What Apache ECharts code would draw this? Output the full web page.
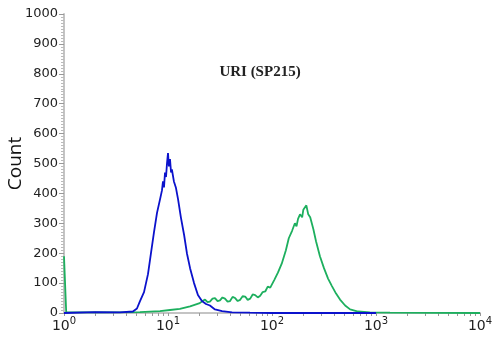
<!DOCTYPE html>
<html lang="en">
<head>
<meta charset="UTF-8">
<title>URI (SP215)</title>
<script src="https://cdn.jsdelivr.net/npm/echarts@6/dist/echarts.min.js"></script>
<style>
  html, body { margin: 0; padding: 0; background: #fff; }
  #chart { width: 500px; height: 342px; }
</style>
</head>
<body>
<div id="chart"></div>
<script>
// fluorescence intensity (log scale) and event counts
var blueX = [1, 2, 3.45, 4.6, 5.03, 5.38, 5.88, 6.42, 6.86, 7.33, 7.84, 8.38, 8.75, 8.95, 9.15, 9.36, 9.57, 9.78,
  10, 10.2, 10.45, 10.7, 10.9, 11.4, 11.9, 12.5, 13.3, 14.3, 15.2, 16.3, 17.8, 19.4, 21.2, 23.2, 25.3, 28.3,
  33.1, 41.3, 61.4, 100, 1000];
var blueY = [0, 3, 2, 5, 15, 40, 70, 130, 200, 270, 335, 380, 410, 440, 420, 470, 455, 500,
  535, 490, 515, 470, 480, 440, 420, 380, 320, 260, 200, 150, 100, 60, 40, 30, 25, 12,
  6, 2, 1, 0, 0];

var greenX = [1, 1.05, 2.22, 5.38, 8.38, 10.45, 13.0, 16.3, 20.2, 21.5, 22.7, 24, 25.3, 26.8, 28.3, 30, 31.6,
  33.4, 35.3, 37.4, 39.5, 41.8, 44.2, 46.8, 49.4, 52.2, 55.2, 58.4, 61.7, 65.2, 68.9, 73, 77.0, 81.4, 86.1,
  91, 96.2, 105, 114, 124, 136, 145, 156, 166, 172, 178, 186, 195, 200, 204, 209, 214,
  223, 233, 250, 265, 289, 316, 346, 377, 413, 451, 505, 564, 673, 873, 1365, 10000];
var greenY = [190, 2, 2, 3, 6, 10, 14, 22, 33, 40, 45, 36, 38, 48, 50, 40, 42, 52, 48, 38, 40, 54, 50, 40,
  44, 56, 55, 44, 48, 62, 60, 52, 58, 70, 72,
  88, 85, 110, 135, 165, 210, 250, 275, 300, 290, 315, 330, 320, 345, 350, 340, 360,
  330, 320, 280, 240, 190, 150, 115, 90, 65, 45, 25, 12, 5, 2, 1, 0];

var decades = [1, 10, 100, 1000, 10000];
var yTicks = [0, 100, 200, 300, 400, 500, 600, 700, 800, 900, 1000];

// tick marks at 1..9 of every decade
var xTickValues = [];
decades.forEach(function (d) {
  for (var k = 1; k <= 9; k++) {
    if (d * k <= 10000) xTickValues.push(d * k);
  }
});

function pairs(xs, ys) {
  return xs.map(function (x, i) { return [x, ys[i]]; });
}

var chart = echarts.init(document.getElementById('chart'));
var option = {
  animation: false,
  title: {
    text: 'URI (SP215)',
    left: 255, top: 60, textAlign: 'center',
    textStyle: { fontFamily: 'Liberation Serif', fontWeight: 'bold', fontSize: 15, color: '#222' }
  },
  grid: { left: 64, right: 20, top: 14, bottom: 29, containLabel: false, outerBoundsMode: 'none' },
  xAxis: {
    type: 'log', logBase: 10, min: 1, max: 10000,
    axisLine: { lineStyle: { color: '#c4c4c4', width: 2 } },
    axisTick: { show: true, length: 3, customValues: xTickValues, lineStyle: { color: '#999' } },
    splitLine: { show: false },
    axisLabel: {
      customValues: decades, margin: 4,
      formatter: function (v) { return '{b|10}{s|' + Math.round(Math.log10(v)) + '}'; },
      rich: {
        b: { fontSize: 14, color: '#222', fontFamily: 'DejaVu Sans', lineHeight: 18 },
        s: { fontSize: 10, color: '#222', fontFamily: 'DejaVu Sans', lineHeight: 18, padding: [0, 0, 9, 0] }
      }
    }
  },
  yAxis: {
    type: 'value', min: 0, max: 1000, interval: 100,
    name: 'Count', nameLocation: 'middle', nameGap: 39, nameMoveOverlap: false,
    nameTextStyle: { fontSize: 19, color: '#111', fontFamily: 'Open Sans' },
    axisLine: { show: true, lineStyle: { color: '#c4c4c4', width: 2 } },
    axisTick: { show: true, length: 5, lineStyle: { color: '#999' } },
    minorTick: { show: true, splitNumber: 10, length: 3, lineStyle: { color: '#bbb' } },
    splitLine: { show: false },
    axisLabel: {
      color: '#222', fontSize: 13, fontFamily: 'DejaVu Sans', margin: 6,
      formatter: function (v) { return yTicks.indexOf(v) >= 0 ? String(v) : ''; }
    }
  },
  series: [
    {
      type: 'line', name: 'control', data: pairs(blueX, blueY),
      showSymbol: false, symbol: 'none',
      lineStyle: { color: '#0b12cc', width: 1.8 }, z: 3
    },
    {
      type: 'line', name: 'URI', data: pairs(greenX, greenY),
      showSymbol: false, symbol: 'none',
      lineStyle: { color: '#1daf5e', width: 1.8 }, z: 2
    }
  ]
};
chart.setOption(option);
</script>
</body>
</html>
